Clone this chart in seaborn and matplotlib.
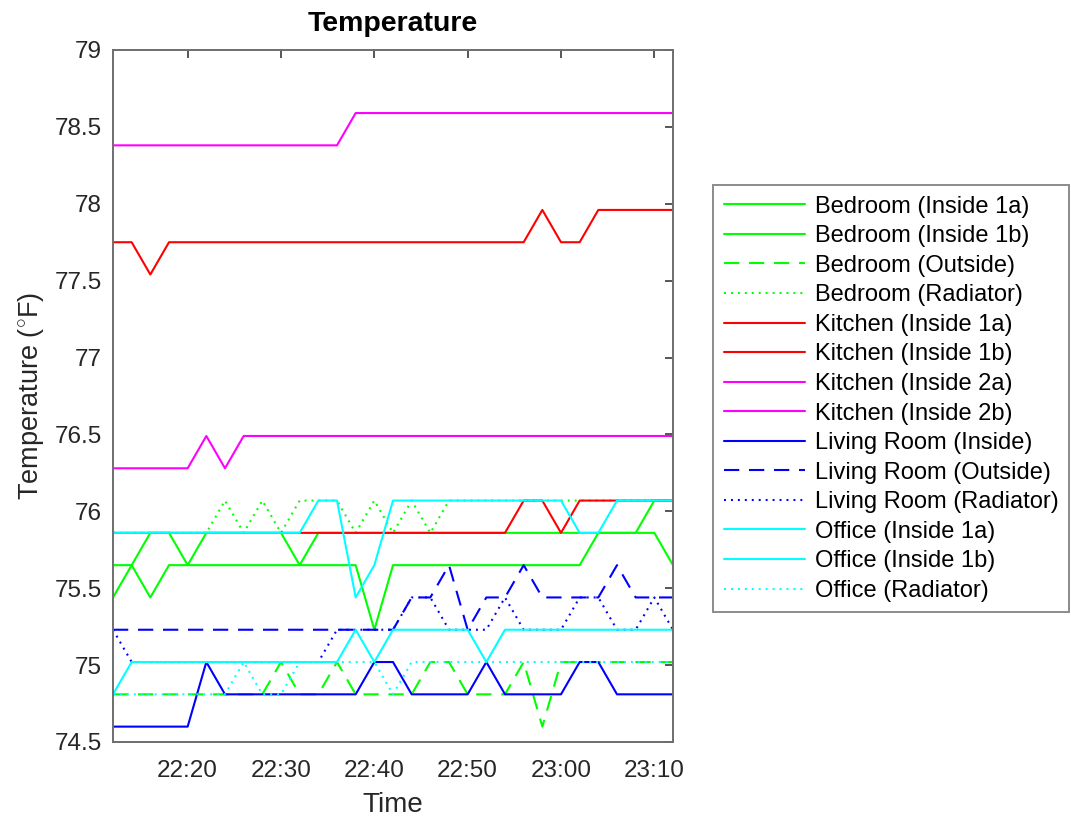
import matplotlib
matplotlib.use("Agg")
import matplotlib.pyplot as plt
from matplotlib.ticker import FuncFormatter
import seaborn as sns
import pandas as pd

# ---------------- data ----------------
times = ["22:12", "22:14", "22:16", "22:18", "22:20", "22:22", "22:24", "22:26",
         "22:28", "22:30", "22:32", "22:34", "22:36", "22:38", "22:40", "22:42",
         "22:44", "22:46", "22:48", "22:50", "22:52", "22:54", "22:56", "22:58",
         "23:00", "23:02", "23:04", "23:06", "23:08", "23:10", "23:12"]

bedroom_in1a = [75.44, 75.65, 75.86, 75.86, 75.65, 75.86, 75.86, 75.86, 75.86, 75.86,
                75.65, 75.86, 75.86, 75.86, 75.86, 75.86, 75.86, 75.86, 75.86, 75.86,
                75.86, 75.86, 75.86, 75.86, 75.86, 75.86, 75.86, 75.86, 75.86, 76.07, 76.07]
bedroom_in1b = [75.65, 75.65, 75.44, 75.65, 75.65, 75.65, 75.65, 75.65, 75.65, 75.65,
                75.65, 75.65, 75.65, 75.65, 75.23, 75.65, 75.65, 75.65, 75.65, 75.65,
                75.65, 75.65, 75.65, 75.65, 75.65, 75.65, 75.86, 75.86, 75.86, 75.86, 75.65]
bedroom_out = [74.81, 74.81, 74.81, 74.81, 74.81, 74.81, 74.81, 74.81, 74.81, 75.02,
               74.81, 74.81, 75.02, 74.81, 74.81, 74.81, 74.81, 75.02, 75.02, 74.81,
               74.81, 74.81, 75.02, 74.60, 75.02, 75.02, 75.02, 75.02, 75.02, 75.02, 75.02]
bedroom_rad = [75.86, 75.86, 75.86, 75.86, 75.86, 75.86, 76.07, 75.86, 76.07, 75.86,
               76.07, 76.07, 76.07, 75.86, 76.07, 75.86, 76.07, 75.86, 76.07, 76.07,
               76.07, 76.07, 76.07, 76.07, 76.07, 76.07, 76.07, 76.07, 76.07, 76.07, 76.07]
kitchen_in1a = [77.75, 77.75, 77.54, 77.75, 77.75, 77.75, 77.75, 77.75, 77.75, 77.75,
                77.75, 77.75, 77.75, 77.75, 77.75, 77.75, 77.75, 77.75, 77.75, 77.75,
                77.75, 77.75, 77.75, 77.96, 77.75, 77.75, 77.96, 77.96, 77.96, 77.96, 77.96]
kitchen_in1b = [75.86, 75.86, 75.86, 75.86, 75.86, 75.86, 75.86, 75.86, 75.86, 75.86,
                75.86, 75.86, 75.86, 75.86, 75.86, 75.86, 75.86, 75.86, 75.86, 75.86,
                75.86, 75.86, 76.07, 76.07, 75.86, 76.07, 76.07, 76.07, 76.07, 76.07, 76.07]
kitchen_in2a = [78.38, 78.38, 78.38, 78.38, 78.38, 78.38, 78.38, 78.38, 78.38, 78.38,
                78.38, 78.38, 78.38, 78.59, 78.59, 78.59, 78.59, 78.59, 78.59, 78.59,
                78.59, 78.59, 78.59, 78.59, 78.59, 78.59, 78.59, 78.59, 78.59, 78.59, 78.59]
kitchen_in2b = [76.28, 76.28, 76.28, 76.28, 76.28, 76.49, 76.28, 76.49, 76.49, 76.49,
                76.49, 76.49, 76.49, 76.49, 76.49, 76.49, 76.49, 76.49, 76.49, 76.49,
                76.49, 76.49, 76.49, 76.49, 76.49, 76.49, 76.49, 76.49, 76.49, 76.49, 76.49]
living_in = [74.60, 74.60, 74.60, 74.60, 74.60, 75.02, 74.81, 74.81, 74.81, 74.81,
             74.81, 74.81, 74.81, 74.81, 75.02, 75.02, 74.81, 74.81, 74.81, 74.81,
             75.02, 74.81, 74.81, 74.81, 74.81, 75.02, 75.02, 74.81, 74.81, 74.81, 74.81]
living_out = [75.23, 75.23, 75.23, 75.23, 75.23, 75.23, 75.23, 75.23, 75.23, 75.23,
              75.23, 75.23, 75.23, 75.23, 75.23, 75.23, 75.44, 75.44, 75.65, 75.23,
              75.44, 75.44, 75.65, 75.44, 75.44, 75.44, 75.44, 75.65, 75.44, 75.44, 75.44]
living_rad = [75.23, 75.02, 75.02, 75.02, 75.02, 75.02, 75.02, 75.02, 75.02, 75.02,
              75.02, 75.02, 75.23, 75.23, 75.23, 75.23, 75.44, 75.44, 75.23, 75.23,
              75.23, 75.44, 75.23, 75.23, 75.23, 75.44, 75.44, 75.23, 75.23, 75.44, 75.23]
office_in1a = [75.86, 75.86, 75.86, 75.86, 75.86, 75.86, 75.86, 75.86, 75.86, 75.86,
               75.86, 76.07, 76.07, 75.44, 75.65, 76.07, 76.07, 76.07, 76.07, 76.07,
               76.07, 76.07, 76.07, 76.07, 76.07, 75.86, 75.86, 76.07, 76.07, 76.07, 76.07]
office_in1b = [74.81, 75.02, 75.02, 75.02, 75.02, 75.02, 75.02, 75.02, 75.02, 75.02,
               75.02, 75.02, 75.02, 75.23, 75.02, 75.23, 75.23, 75.23, 75.23, 75.23,
               75.02, 75.23, 75.23, 75.23, 75.23, 75.23, 75.23, 75.23, 75.23, 75.23, 75.23]
office_rad = [74.81, 74.81, 74.81, 74.81, 74.81, 74.81, 74.81, 75.02, 74.81, 74.81,
              75.02, 75.02, 75.02, 75.02, 75.02, 74.81, 75.02, 75.02, 75.02, 75.02,
              75.02, 75.02, 75.02, 75.02, 75.02, 75.02, 75.02, 75.02, 75.02, 75.02, 75.02]

series_names = ["Bedroom (Inside 1a)", "Bedroom (Inside 1b)", "Bedroom (Outside)",
                "Bedroom (Radiator)", "Kitchen (Inside 1a)", "Kitchen (Inside 1b)",
                "Kitchen (Inside 2a)", "Kitchen (Inside 2b)", "Living Room (Inside)",
                "Living Room (Outside)", "Living Room (Radiator)", "Office (Inside 1a)",
                "Office (Inside 1b)", "Office (Radiator)"]
series_values = [bedroom_in1a, bedroom_in1b, bedroom_out, bedroom_rad,
                 kitchen_in1a, kitchen_in1b, kitchen_in2a, kitchen_in2b,
                 living_in, living_out, living_rad,
                 office_in1a, office_in1b, office_rad]

xtick_labels = ["22:20", "22:30", "22:40", "22:50", "23:00", "23:10"]
ytick_values = [74.5, 75, 75.5, 76, 76.5, 77, 77.5, 78, 78.5, 79]

# ---------------- styles ----------------
GREEN, RED, MAG, BLUE, CYAN = "#00ff00", "#ff0000", "#ff00ff", "#0000ff", "#00ffff"
SOLID = "-"
DASH = (0, (11.0, 7.0))
DOT = (0, (1.4, 3.6))
colors = [GREEN, GREEN, GREEN, GREEN, RED, RED, MAG, MAG, BLUE, BLUE, BLUE, CYAN, CYAN, CYAN]
styles = [SOLID, SOLID, DASH, DOT, SOLID, SOLID, SOLID, SOLID, SOLID, DASH, DOT, SOLID, SOLID, DOT]

sns.set_style("white")
plt.rcParams["font.family"] = ["Liberation Sans", "DejaVu Sans"]
plt.rcParams["lines.scale_dashes"] = False
plt.rcParams["mathtext.fontset"] = "custom"
plt.rcParams["mathtext.rm"] = "Liberation Sans"

day = "2016-01-01 "
tdt = pd.to_datetime([day + t for t in times])

W, H = 1071, 816
fig = plt.figure(figsize=(W / 100, H / 100), dpi=100)
ax = fig.add_axes([113 / W, 1 - 742 / H, 560 / W, 692 / H])

for name, vals, c, ls in zip(series_names, series_values, colors, styles):
    sns.lineplot(x=tdt, y=vals, ax=ax, color=c, linestyle=ls, linewidth=1.5,
                 label=name, estimator=None)

ax.set_xlim(pd.Timestamp(day + "22:12"), pd.Timestamp(day + "23:12"))
ax.set_ylim(74.5, 79)
xt = pd.to_datetime([day + t for t in xtick_labels])
ax.set_xticks(xt)
ax.set_xticklabels(xtick_labels)
ax.set_yticks(ytick_values)
ax.yaxis.set_major_formatter(FuncFormatter(lambda v, p: "%g" % v))

spine_col = "#6e6e6e"
for s in ax.spines.values():
    s.set_color(spine_col)
    s.set_linewidth(1.4)
    s.set_visible(True)
ax.tick_params(direction="in", length=6, width=1.2, top=True, right=True,
               labelsize=17.5, color="#3a3a3a", labelcolor="#262626")
ax.tick_params(axis="x", pad=13)
ax.tick_params(axis="y", pad=8)
ax.grid(False)

ax.set_title("Temperature", fontsize=20.5, fontweight="bold", color="black", pad=14)
ax.set_xlabel("Time", fontsize=20, color="#262626", labelpad=7)
ax.set_ylabel(r"Temperature ($^{\circ}$F)", fontsize=19.5, color="#262626", labelpad=6)

leg = ax.legend(loc="upper left", bbox_to_anchor=(713 / W, 1 - 185 / H),
                bbox_transform=fig.transFigure, frameon=True, fancybox=False,
                fontsize=17.0, handlelength=3.45, handletextpad=0.4,
                labelspacing=0.32, borderpad=0.45, borderaxespad=0)
leg.get_frame().set_edgecolor("#6e6e6e")
leg.get_frame().set_linewidth(1.4)
for t in leg.get_texts():
    t.set_color("black")

fig.savefig("out.png", dpi=100, facecolor="white")
